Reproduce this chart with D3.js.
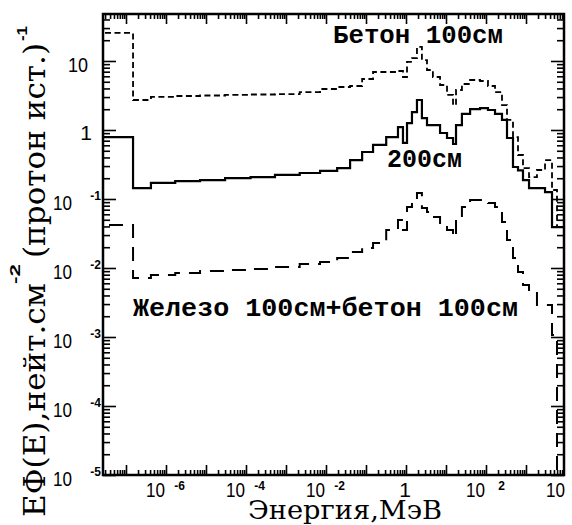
<!DOCTYPE html>
<html>
<head>
<meta charset="utf-8">
<script src="https://cdn.jsdelivr.net/npm/d3@7"></script>
<style>
  body { margin: 0; background: #fff; }
</style>
</head>
<body>
<div id="chart"></div>
<script>
// group boundaries, MeV (42 groups)
const edges = [1e-8, 1.5e-7, 4.2e-7, 1.7e-6, 7.1e-6, 3.0e-5, 1.3e-4, 5.3e-4, 2.2e-3, 7.1e-3,
  0.019, 0.04, 0.08, 0.15, 0.32, 0.63, 0.84, 1.06, 1.41, 1.88,
  2.5, 3.35, 4.7, 7.1, 10.6, 15, 17.8, 25, 40, 71,
  112, 168, 251, 335, 473, 631, 841, 1190, 1880, 2990,
  4470, 5960, 12600];

// E*Phi(E), neutrons cm^-2 per source proton
const concrete100 = [25.5, 2.72, 3.01, 3.11, 3.16, 3.22, 3.27, 3.32, 3.55, 3.93,
  4.2, 4.34, 5.48, 6.93, 6.93, 7.16, 5.86, 9.68, 11.0, 16.0,
  10.3, 7.4, 5.86, 4.49, 3.22, 2.3, 3.8, 4.64, 5.3, 5.13,
  4.34, 3.55, 2.3, 1.4, 0.79, 0.434, 0.281, 0.208, 0.263, 0.367,
  0.135, 0.039];

const concrete200 = [0.79, 0.144, 0.171, 0.182, 0.188, 0.201, 0.208, 0.223, 0.238, 0.255,
  0.281, 0.367, 0.48, 0.61, 0.79, 1.1, 0.65, 1.26, 1.82, 2.72,
  1.49, 1.18, 1.18, 0.905, 0.766, 0.627, 1.18, 1.71, 2.01, 2.08,
  1.95, 1.71, 1.4, 0.766, 0.291, 0.26, 0.188, 0.144, 0.144, 0.126,
  0.039, 0.039];

const ironConcrete = [0.042, 0.00716, 0.00792, 0.00847, 0.00905, 0.00936, 0.00968, 0.0103, 0.0114, 0.0122,
  0.014, 0.0171, 0.0195, 0.023, 0.0356, 0.0497, 0.0356, 0.0766, 0.0968, 0.122,
  0.0741, 0.0648, 0.0548, 0.0449, 0.0356, 0.0281, 0.0497, 0.0766, 0.0968, 0.0968,
  0.0875, 0.0766, 0.0465, 0.0255, 0.014, 0.00875, 0.00567, 0.00435, 0.00291, 0.00291,
  0.00107, 1e-7];

const xTickPowers = [-6, -4, -2, 0, 2, 4];
const yTickPowers = [1, 0, -1, -2, -3, -4, -5];

const W = 572, H = 525;
const m = { left: 103, right: 564, top: 14, bottom: 475 };

const svg = d3.select("#chart").append("svg")
  .attr("width", W).attr("height", H);

const x = d3.scaleLog()
  .domain([Math.pow(10, -7.575), Math.pow(10, 3.95)])
  .range([m.left, m.right]);
const y = d3.scaleLog()
  .domain([1e-5, Math.pow(10, 1.681)])
  .range([m.bottom, m.top]);

svg.append("clipPath").attr("id", "plot")
  .append("rect")
  .attr("x", m.left).attr("y", m.top)
  .attr("width", m.right - m.left).attr("height", m.bottom - m.top);

const g = svg.append("g").attr("clip-path", "url(#plot)");

// step histograms
function steps(vals) {
  const pts = vals.map((v, i) => [edges[i], v]);
  pts.push([edges[vals.length], vals[vals.length - 1]]);
  return pts;
}
const line = d3.line()
  .x(d => x(d[0]))
  .y(d => y(d[1]))
  .curve(d3.curveStepAfter);

const series = [
  { vals: concrete100, dash: "6,3.5", width: 1.8 },
  { vals: concrete200, dash: null, width: 2.2 },
  { vals: ironConcrete, dash: "14,9", width: 2 }
];
series.forEach(s => {
  g.append("path")
    .datum(steps(s.vals))
    .attr("d", line)
    .attr("fill", "none")
    .attr("stroke", "#000")
    .attr("stroke-width", s.width)
    .attr("stroke-dasharray", s.dash);
});

// log ticks (1..9 per decade) on all four sides, pointing inward
const xTickVals = [], yTickVals = [];
for (let e = -8; e <= 4; e++) {
  for (let k = 1; k < 10; k++) {
    const v = k * Math.pow(10, e);
    if (v >= x.domain()[0] && v <= x.domain()[1]) xTickVals.push(v);
    if (v >= y.domain()[0] && v <= y.domain()[1]) yTickVals.push(v);
  }
}
const isMajor = v => Math.abs(Math.log10(v) - Math.round(Math.log10(v))) < 1e-9;
const xMinor = xTickVals.filter(v => !isMajor(v)), xMajor = xTickVals.filter(isMajor);
const yMinor = yTickVals.filter(v => !isMajor(v)), yMajor = yTickVals.filter(isMajor);

function addTicks(axis, tx, ty) {
  const a = svg.append("g")
    .attr("transform", "translate(" + tx + "," + ty + ")")
    .call(axis.tickFormat(() => ""));
  a.select(".domain").remove();
  a.selectAll(".tick line").attr("stroke", "#000").attr("stroke-width", 1.6);
}
addTicks(d3.axisBottom(x).tickValues(xMinor).tickSizeInner(-5).tickSizeOuter(0), 0, m.bottom);
addTicks(d3.axisBottom(x).tickValues(xMajor).tickSizeInner(-10).tickSizeOuter(0), 0, m.bottom);
addTicks(d3.axisTop(x).tickValues(xMinor).tickSizeInner(-5).tickSizeOuter(0), 0, m.top);
addTicks(d3.axisTop(x).tickValues(xMajor).tickSizeInner(-10).tickSizeOuter(0), 0, m.top);
addTicks(d3.axisLeft(y).tickValues(yMinor).tickSizeInner(-7).tickSizeOuter(0), m.left, 0);
addTicks(d3.axisLeft(y).tickValues(yMajor).tickSizeInner(-13).tickSizeOuter(0), m.left, 0);
addTicks(d3.axisRight(y).tickValues(yMinor).tickSizeInner(-7).tickSizeOuter(0), m.right, 0);
addTicks(d3.axisRight(y).tickValues(yMajor).tickSizeInner(-13).tickSizeOuter(0), m.right, 0);

svg.append("rect")
  .attr("x", m.left).attr("y", m.top)
  .attr("width", m.right - m.left).attr("height", m.bottom - m.top)
  .attr("fill", "none").attr("stroke", "#000").attr("stroke-width", 2.5);

// tick labels
const sans = "'Liberation Sans', Arial, sans-serif";
yTickPowers.forEach(p => {
  const yy = y(Math.pow(10, p));
  if (p === 0) {
    svg.append("text").attr("x", 92).attr("y", yy + 10).attr("text-anchor", "end")
      .attr("font-family", sans).attr("font-size", 21).text("1");
  } else if (p === 1) {
    svg.append("text").attr("x", 88).attr("y", yy + 11).attr("text-anchor", "end")
      .attr("font-family", sans).attr("font-size", 21)
      .attr("textLength", 20).attr("lengthAdjust", "spacingAndGlyphs").text("10");
  } else {
    svg.append("text").attr("x", 53).attr("y", yy + 11)
      .attr("font-family", sans).attr("font-size", 21)
      .attr("textLength", 19).attr("lengthAdjust", "spacingAndGlyphs").text("10");
    svg.append("text").attr("x", 101).attr("y", yy + 1).attr("text-anchor", "end")
      .attr("font-family", sans).attr("font-size", 12).attr("font-weight", "bold")
      .text(String(p));
  }
});
xTickPowers.forEach(p => {
  const xx = x(Math.pow(10, p));
  if (p === 0) {
    svg.append("text").attr("x", xx - 1).attr("y", 497).attr("text-anchor", "middle")
      .attr("font-family", sans).attr("font-size", 21).text("1");
  } else {
    svg.append("text").attr("x", xx - 20).attr("y", 497)
      .attr("font-family", sans).attr("font-size", 21)
      .attr("textLength", 19).attr("lengthAdjust", "spacingAndGlyphs").text("10");
    // the last exponent falls outside the picture, as in the original
    if (xx + 10 < W) {
      svg.append("text").attr("x", xx + 19).attr("y", 490).attr("text-anchor", "end")
        .attr("font-family", sans).attr("font-size", 12).attr("font-weight", "bold")
        .text(String(p));
    }
  }
});

// axis titles
const serif = "'DejaVu Serif', serif";
svg.append("text")
  .attr("x", 248).attr("y", 519)
  .attr("font-family", serif).attr("font-size", 26)
  .attr("textLength", 194).attr("lengthAdjust", "spacingAndGlyphs")
  .text("Энергия,МэВ");

// y title in pieces: [text, x, y, length, superscript?]
[["EФ(E),нейт.см", 45, 517, 234, false],
 ["-2", 20, 284, 20, true],
 ["(протон ист.)", 45, 258, 215, false],
 ["-1", 27, 41, 15, true]].forEach(t => {
  svg.append("text")
    .attr("transform", "translate(" + t[1] + "," + t[2] + ") rotate(-90)")
    .attr("font-family", t[4] ? sans : serif)
    .attr("font-size", t[4] ? 15 : 30)
    .attr("font-weight", t[4] ? "bold" : "normal")
    .attr("textLength", t[3]).attr("lengthAdjust", "spacingAndGlyphs")
    .text(t[0]);
});

// curve labels
const mono = "'Liberation Mono', 'Courier New', monospace";
[["Бетон 100см", 333, 43, 170], ["200см", 387, 167, 75],
 ["Железо 100см+бетон 100см", 133, 316, 385]].forEach(t => {
  svg.append("text")
    .attr("x", t[1]).attr("y", t[2])
    .attr("font-family", mono).attr("font-size", 26).attr("font-weight", "bold")
    .attr("textLength", t[3]).attr("lengthAdjust", "spacingAndGlyphs")
    .text(t[0]);
});
</script>
</body>
</html>
